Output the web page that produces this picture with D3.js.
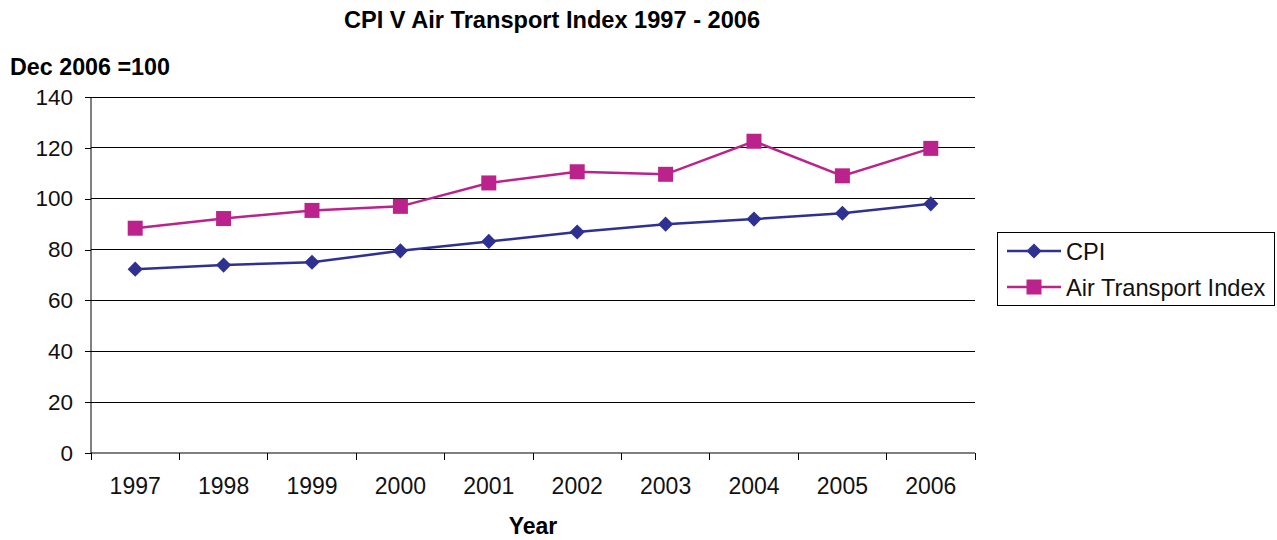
<!DOCTYPE html>
<html><head><meta charset="utf-8">
<script src="https://cdn.jsdelivr.net/npm/d3@7"></script>
<style>body{margin:0;background:#fff;font-family:"Liberation Sans",Arial,sans-serif;}</style>
</head><body>
<svg id="c" width="1277" height="540"></svg>
<script>
const years = ["1997","1998","1999","2000","2001","2002","2003","2004","2005","2006"];
const cpi = [72.3, 73.9, 75.0, 79.5, 83.2, 86.9, 90.0, 92.0, 94.3, 98.0];
const air = [88.4, 92.2, 95.4, 97.0, 106.2, 110.6, 109.6, 122.6, 109.0, 119.8];
const yTicks = [0, 20, 40, 60, 80, 100, 120, 140];
const seriesNames = ["CPI", "Air Transport Index"];
const colors = ["#2E3192", "#BC228C"];
const FF = "Liberation Sans, Arial, sans-serif";

const svg = d3.select("#c").attr("font-family", FF);
const L = 91, R = 975, T = 97, B = 453;
const x = d3.scaleBand().domain(years).range([L, R]);
const y = d3.scaleLinear().domain([0, 140]).range([B, T]);

// gridlines
svg.append("g").selectAll("line").data(yTicks.filter(d => d > 0)).join("line")
  .attr("x1", L).attr("x2", R).attr("y1", d => y(d)).attr("y2", d => y(d))
  .attr("stroke", "#000").attr("stroke-width", 1).attr("shape-rendering", "crispEdges");

// y axis
const ya = svg.append("g").attr("transform", `translate(${L},0)`)
  .call(d3.axisLeft(y).tickValues(yTicks).tickSize(6).tickPadding(12));
ya.select(".domain").attr("stroke", "#000").attr("d", `M0,${T}V${B}`);
ya.selectAll("text").attr("font-size", 22.5).attr("font-family", FF).attr("fill", "#111");
ya.selectAll("line").attr("shape-rendering", "crispEdges");

// x axis
const xa = svg.append("g").attr("transform", `translate(0,${B})`)
  .call(d3.axisBottom(x).tickSize(0).tickPadding(25));
xa.select(".domain").attr("stroke", "#000").attr("d", `M${L},0H${R}`);
xa.selectAll("text").attr("font-size", 23).attr("font-family", FF).attr("fill", "#111");
// boundary ticks
svg.append("g").selectAll("line").data(years.concat(["end"])).join("line")
  .attr("x1", (d,i) => L + i * x.bandwidth()).attr("x2", (d,i) => L + i * x.bandwidth())
  .attr("y1", B).attr("y2", B + 7).attr("stroke", "#000").attr("shape-rendering", "crispEdges");

const cx = d => x(d) + x.bandwidth() / 2;
const data = [cpi, air];
const line = d3.line().x((d,i) => cx(years[i])).y(d => y(d));
data.forEach((s, k) => {
  svg.append("path").datum(s).attr("d", line).attr("fill", "none")
    .attr("stroke", colors[k]).attr("stroke-width", 2.5);
});
// markers
svg.append("g").selectAll("path").data(cpi).join("path")
  .attr("d", d3.symbol().type(d3.symbolSquare).size(115))
  .attr("transform", (d,i) => `translate(${cx(years[i])},${y(d)}) rotate(45)`)
  .attr("fill", colors[0]);
svg.append("g").selectAll("rect").data(air).join("rect")
  .attr("x", (d,i) => cx(years[i]) - 7.5).attr("y", d => y(d) - 7.5)
  .attr("width", 15).attr("height", 15).attr("fill", colors[1]);

// titles
svg.append("text").attr("x", 552).attr("y", 28).attr("text-anchor", "middle")
  .attr("font-size", 23.6).attr("font-weight", "bold").text("CPI V Air Transport Index 1997 - 2006");
svg.append("text").attr("x", 10).attr("y", 75)
  .attr("font-size", 23.3).attr("font-weight", "bold").text("Dec 2006 =100");
svg.append("text").attr("x", 533).attr("y", 534).attr("text-anchor", "middle")
  .attr("font-size", 23).attr("font-weight", "bold").text("Year");

// legend
const lg = svg.append("g");
lg.append("rect").attr("x", 997.5).attr("y", 232.5).attr("width", 277).attr("height", 73)
  .attr("fill", "#fff").attr("stroke", "#000");
seriesNames.forEach((n, k) => {
  const yy = 251 + k * 36;
  lg.append("line").attr("x1", 1007).attr("x2", 1061).attr("y1", yy).attr("y2", yy)
    .attr("stroke", colors[k]).attr("stroke-width", 2.5);
  if (k === 0) {
    lg.append("path").attr("d", d3.symbol().type(d3.symbolSquare).size(115))
      .attr("transform", `translate(1034,${yy}) rotate(45)`).attr("fill", colors[k]);
  } else {
    lg.append("rect").attr("x", 1034 - 7.5).attr("y", yy - 7.5).attr("width", 15).attr("height", 15).attr("fill", colors[k]);
  }
  lg.append("text").attr("x", 1066).attr("y", yy + 8.5).attr("font-size", 23.6).attr("fill", "#111").text(n);
});
</script>
</body></html>
